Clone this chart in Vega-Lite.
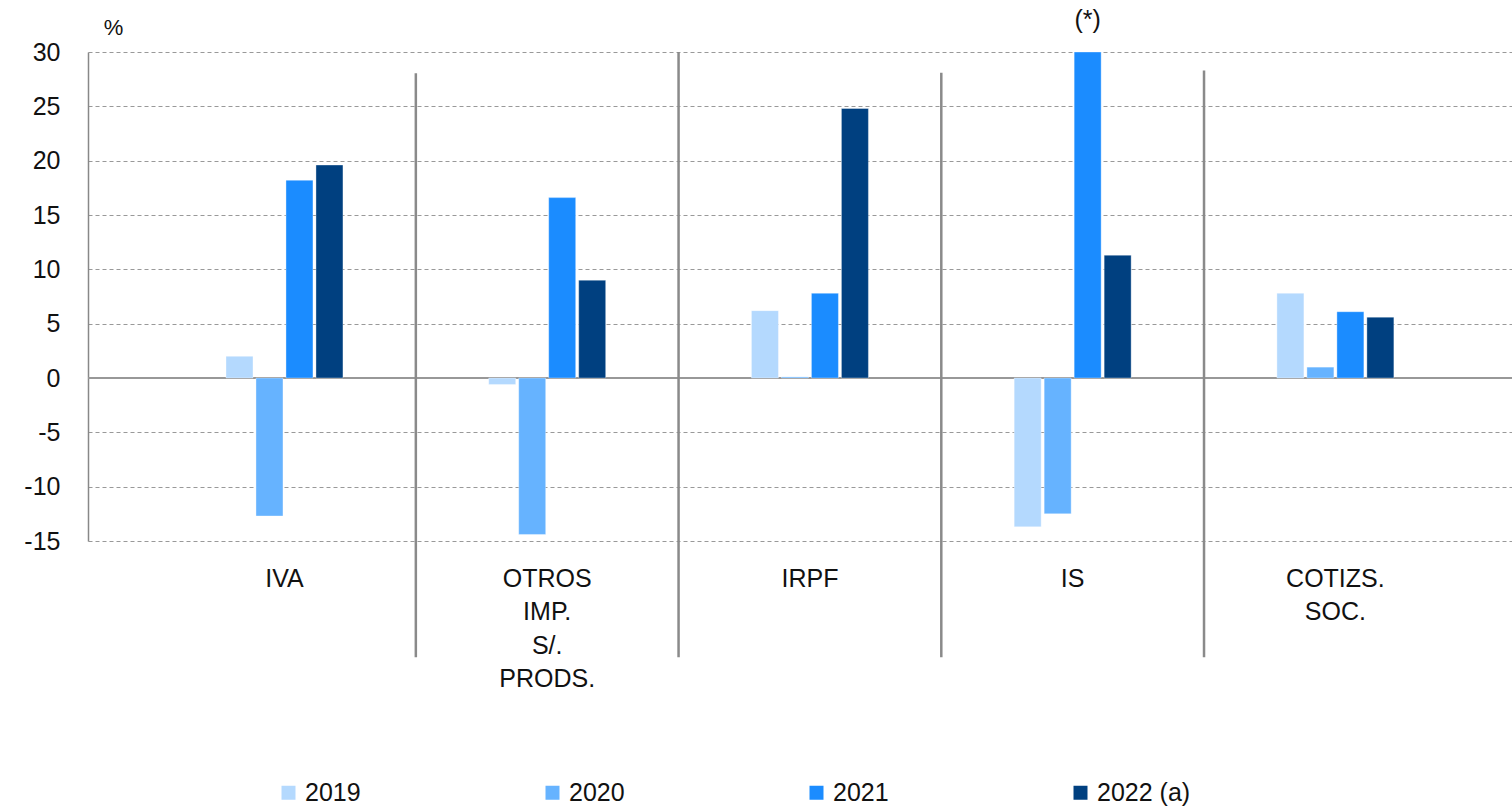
{
  "$schema": "https://vega.github.io/schema/vega-lite/v6.json",
  "autosize": {"type": "none"},
  "width": 1424,
  "height": 489,
  "padding": {"left": 88, "top": 52, "right": 0, "bottom": 267},
  "background": "white",
  "config": {
    "view": {"stroke": null},
    "font": "Liberation Sans",
    "axis": {"labelFont": "Liberation Sans", "titleFont": "Liberation Sans", "labelColor": "#111", "titleColor": "#111"}
  },
  "datasets": {
    "bars": [
      {"cat": "IVA", "year": "2019", "v": 2.0},
      {"cat": "IVA", "year": "2020", "v": -12.7},
      {"cat": "IVA", "year": "2021", "v": 18.2},
      {"cat": "IVA", "year": "2022 (a)", "v": 19.6},
      {"cat": "OTROS IMP. S/. PRODS.", "year": "2019", "v": -0.6},
      {"cat": "OTROS IMP. S/. PRODS.", "year": "2020", "v": -14.4},
      {"cat": "OTROS IMP. S/. PRODS.", "year": "2021", "v": 16.6},
      {"cat": "OTROS IMP. S/. PRODS.", "year": "2022 (a)", "v": 9.0},
      {"cat": "IRPF", "year": "2019", "v": 6.2},
      {"cat": "IRPF", "year": "2020", "v": 0.1},
      {"cat": "IRPF", "year": "2021", "v": 7.8},
      {"cat": "IRPF", "year": "2022 (a)", "v": 24.8},
      {"cat": "IS", "year": "2019", "v": -13.7},
      {"cat": "IS", "year": "2020", "v": -12.5},
      {"cat": "IS", "year": "2021", "v": 30},
      {"cat": "IS", "year": "2022 (a)", "v": 11.3},
      {"cat": "COTIZS. SOC.", "year": "2019", "v": 7.8},
      {"cat": "COTIZS. SOC.", "year": "2020", "v": 1.0},
      {"cat": "COTIZS. SOC.", "year": "2021", "v": 6.1},
      {"cat": "COTIZS. SOC.", "year": "2022 (a)", "v": 5.6}
    ],
    "seps": [
      {"cat": "OTROS IMP. S/. PRODS.", "top": 28.05, "bottom": -25.7},
      {"cat": "IRPF", "top": 30, "bottom": -25.7},
      {"cat": "IS", "top": 28.1, "bottom": -25.7},
      {"cat": "COTIZS. SOC.", "top": 28.3, "bottom": -25.7}
    ],
    "notes": [
      {"cat": "IS", "year": "2021", "v": 30, "label": "(*)"}
    ]
  },
  "encoding": {
    "x": {
      "field": "cat",
      "type": "nominal",
      "sort": ["IVA", "OTROS IMP. S/. PRODS.", "IRPF", "IS", "COTIZS. SOC."],
      "scale": {"paddingInner": 0, "paddingOuter": 0.21, "align": 0.59},
      "axis": {
        "title": null,
        "domain": false,
        "ticks": false,
        "grid": false,
        "labelAngle": 0,
        "labelFontSize": 25,
        "labelLineHeight": 33.5,
        "labelPadding": 25,
        "labelExpr": "split(datum.label, ' ')"
      }
    }
  },
  "layer": [
    {
      "data": {"name": "bars"},
      "mark": {"type": "rule", "color": "#999999", "strokeWidth": 1.5},
      "encoding": {
        "x": null,
        "y": {"datum": 0, "type": "quantitative"}
      }
    },
    {
      "data": {"name": "seps"},
      "mark": {"type": "rule", "color": "#8a8a8a", "strokeWidth": 2.5, "clip": false},
      "encoding": {
        "x": {"field": "cat", "type": "nominal", "bandPosition": 0},
        "y": {"field": "top", "type": "quantitative"},
        "y2": {"field": "bottom"}
      }
    },
    {
      "data": {"name": "bars"},
      "mark": {"type": "bar", "stroke": "#ffffff", "strokeOpacity": 0.35, "strokeWidth": 1},
      "encoding": {
        "xOffset": {
          "field": "year",
          "type": "nominal",
          "scale": {"domain": ["_a", "_b", "2019", "2020", "2021", "2022 (a)", "_c", "_d"], "paddingInner": 0.1, "paddingOuter": 0.43}
        },
        "y": {
          "field": "v",
          "type": "quantitative",
          "scale": {"domain": [-15, 30], "nice": false, "zero": false},
          "axis": {
            "title": "%",
            "titleAngle": 0,
            "titleX": 25,
            "titleY": -25,
            "titleAlign": "center",
            "titleBaseline": "middle",
            "titleFontSize": 22,
            "titleFontWeight": "normal",
            "values": [-15, -10, -5, 0, 5, 10, 15, 20, 25, 30],
            "labelExpr": "toString(datum.value)",
            "labelFontSize": 25,
            "labelPadding": 28,
            "ticks": false,
            "tickSize": 0,
            "domainColor": "#888888",
            "domainWidth": 1.5,
            "grid": true,
            "gridColor": "#999999",
            "gridDash": [4, 3],
            "gridWidth": 1
          }
        },
        "color": {
          "field": "year",
          "type": "nominal",
          "scale": {"domain": ["2019", "2020", "2021", "2022 (a)"], "range": ["#b4d9fe", "#66b3ff", "#1b8cff", "#004080"]},
          "legend": {
            "title": null,
            "orient": "none",
            "legendX": 188,
            "legendY": 728,
            "direction": "horizontal",
            "columns": 4,
            "columnPadding": 179,
            "padding": 0,
            "symbolType": "square",
            "symbolSize": 196,
            "symbolStrokeWidth": 0,
            "labelFontSize": 25,
            "labelOffset": 4,
            "labelColor": "#111",
            "labelFont": "Liberation Sans",
            "labelLimit": 300
          }
        }
      }
    },
    {
      "data": {"name": "notes"},
      "mark": {"type": "text", "fontSize": 25, "baseline": "middle", "dy": -32, "color": "#111"},
      "encoding": {
        "xOffset": {"field": "year", "type": "nominal"},
        "y": {"field": "v", "type": "quantitative"},
        "text": {"field": "label"}
      }
    }
  ]
}
